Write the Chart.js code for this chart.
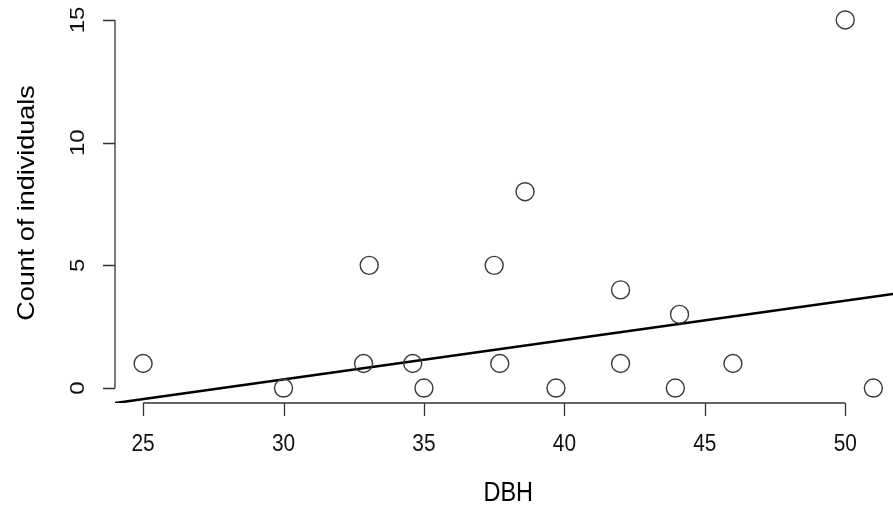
<!DOCTYPE html>
<html>
<head>
<meta charset="utf-8">
<script src="https://cdn.jsdelivr.net/npm/chart.js@4"></script>
<style>
  html, body { margin: 0; padding: 0; background: #fff; }
  #wrap { width: 893px; height: 510px; }
</style>
</head>
<body>
<div id="wrap"><canvas id="dbhChart" width="893" height="510"></canvas></div>
<script>
// DBH vs count of individuals
const dbh = [25.0, 30.0, 32.85, 33.05, 34.6, 35.0, 37.5, 37.7, 38.6, 39.7, 42.0, 42.0, 43.95, 44.1, 46.0, 50.0, 51.0];
const counts = [1, 0, 1, 5, 1, 0, 5, 1, 8, 0, 4, 1, 0, 3, 1, 15, 0];

// fitted line, drawn across the whole plot region
const fitX = [24.0, 51.7];
const fitY = [-0.61, 3.83];

const xTicks = [25, 30, 35, 40, 45, 50];
const yTicks = [0, 5, 10, 15];
const xTitle = 'DBH';
const yTitle = 'Count of individuals';

const ctx = document.getElementById('dbhChart');
const FONT = '"Liberation Sans", Arial, sans-serif';
const SQ = 0.87; // the source image text is a bit narrow horizontally

// R-style axes: lines only span the tick range, labels on y are rotated
const rAxes = {
  id: 'rAxes',
  afterDraw(chart) {
    const c = chart.ctx;
    const xs = chart.scales.x;
    const ys = chart.scales.y;
    const area = chart.chartArea;
    c.save();
    c.strokeStyle = '#333';
    c.lineWidth = 1.3;
    c.fillStyle = '#111';

    const hText = (txt, x, y) => {
      c.save();
      c.translate(x, y);
      c.scale(SQ, 1);
      c.fillText(txt, 0, 0);
      c.restore();
    };
    const vText = (txt, x, y) => {
      c.save();
      c.translate(x, y);
      c.scale(SQ, 1);
      c.rotate(-Math.PI / 2);
      c.fillText(txt, 0, 0);
      c.restore();
    };

    // x axis
    const yAx = area.bottom;
    c.beginPath();
    c.moveTo(xs.getPixelForValue(xTicks[0]), yAx);
    c.lineTo(xs.getPixelForValue(xTicks[xTicks.length - 1]), yAx);
    xTicks.forEach(t => {
      const px = Math.round(xs.getPixelForValue(t)) + 0.5;
      c.moveTo(px, yAx);
      c.lineTo(px, yAx + 13);
    });
    c.stroke();
    c.font = '24px ' + FONT;
    c.textAlign = 'center';
    c.textBaseline = 'middle';
    xTicks.forEach(t => hText(String(t), xs.getPixelForValue(t), yAx + 41));

    // y axis
    const xAx = area.left;
    c.beginPath();
    c.moveTo(xAx, ys.getPixelForValue(yTicks[0]));
    c.lineTo(xAx, ys.getPixelForValue(yTicks[yTicks.length - 1]));
    yTicks.forEach(t => {
      const py = Math.round(ys.getPixelForValue(t)) + 0.5;
      c.moveTo(xAx, py);
      c.lineTo(xAx - 12, py);
    });
    c.stroke();
    yTicks.forEach(t => vText(String(t), xAx - 37, ys.getPixelForValue(t)));

    // titles (centred on the full R plot region, which runs past the right edge)
    c.font = '27px ' + FONT;
    c.fillStyle = '#000';
    hText(xTitle, xs.getPixelForValue(38), yAx + 91);
    vText(yTitle, 28, ys.getPixelForValue(7.5) - 1);
    c.restore();
  }
};

const chart = new Chart(ctx, {
  type: 'scatter',
  data: {
    datasets: [
      {
        label: 'Individuals',
        data: dbh.map((x, i) => ({ x: x, y: counts[i] })),
        pointRadius: 9,
        pointHoverRadius: 9,
        pointBorderWidth: 1.4,
        pointBorderColor: '#3a3a3a',
        pointBackgroundColor: 'rgba(0,0,0,0)',
      },
      {
        label: 'Fit',
        type: 'line',
        data: fitX.map((x, i) => ({ x: x, y: fitY[i] })),
        borderColor: '#000',
        borderWidth: 2.6,
        pointRadius: 0,
        fill: false,
      },
    ],
  },
  options: {
    responsive: false,
    animation: false,
    events: [],
    layout: { autoPadding: false, padding: { left: 115, right: 0, top: 5, bottom: 107 } },
    plugins: { legend: { display: false }, tooltip: { enabled: false } },
    scales: {
      x: { type: 'linear', min: 24.0, max: 51.7, display: false },
      y: { type: 'linear', min: -0.61, max: 15.61, display: false },
    },
  },
  plugins: [rAxes],
});
</script>
</body>
</html>
